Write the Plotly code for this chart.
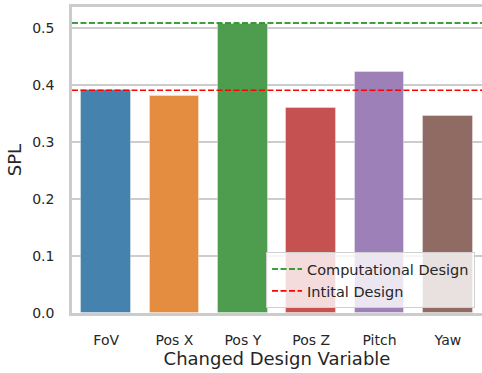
import plotly.graph_objects as go

categories = ["FoV", "Pos X", "Pos Y", "Pos Z", "Pitch", "Yaw"]
spl_values = [0.391, 0.381, 0.507, 0.360, 0.423, 0.346]
computational_design = 0.509
initial_design = 0.391
bar_colors = ["#4682ae", "#e48d40", "#4e9d4e", "#c65151", "#9e80b9", "#906b64"]
y_ticks = [0.0, 0.1, 0.2, 0.3, 0.4, 0.5]

xs = list(range(len(categories)))
fig = go.Figure()
fig.add_trace(go.Bar(
    x=xs, y=spl_values, width=0.73,
    marker=dict(color=bar_colors, opacity=1,
                line=dict(color="rgba(255,255,255,0.35)", width=1)),
    showlegend=False,
))
x_span = [-0.5, len(categories) - 0.5]
fig.add_trace(go.Scatter(
    x=x_span, y=[computational_design] * 2, mode="lines",
    line=dict(color="green", width=1.6, dash="6px,2.5px"),
    name="Computational Design",
))
fig.add_trace(go.Scatter(
    x=x_span, y=[initial_design] * 2, mode="lines",
    line=dict(color="red", width=1.6, dash="6px,2.5px"),
    name="Intital Design",
))

fig.update_layout(
    width=482, height=373,
    margin=dict(l=72, r=0, t=7, b=60),
    plot_bgcolor="white", paper_bgcolor="white",
    font=dict(family="DejaVu Sans", color="#262626", size=14),
    bargap=0,
    legend=dict(
        x=0.983, y=0.016, xanchor="right", yanchor="bottom",
        bgcolor="rgba(255,255,255,0.8)", bordercolor="#d0d0d0", borderwidth=1,
        font=dict(size=14.5, color="#262626"),
        tracegroupgap=0, itemwidth=30,
    ),
)
fig.update_xaxes(
    range=x_span, tickvals=xs, ticktext=categories, automargin=False,
    showgrid=False, zeroline=False,
    showline=True, linecolor="#cccccc", linewidth=2.5, mirror=True,
    ticks="", ticklabelstandoff=12,
    title=dict(text="Changed Design Variable", font=dict(size=18), standoff=6),
)
fig.update_yaxes(
    range=[0, 0.537], tickvals=y_ticks, ticktext=[f"{v:.1f}" for v in y_ticks],
    automargin=False,
    showgrid=True, gridcolor="#cccccc", gridwidth=1.5, zeroline=False,
    showline=True, linecolor="#cccccc", linewidth=2.5, mirror=True,
    ticks="", ticklabelstandoff=12,
    title=dict(text="SPL", font=dict(size=18), standoff=6),
)
fig.write_html("out.html", config={"displayModeBar": False},
               post_script="document.body.style.margin='0';document.body.style.padding='0';")
